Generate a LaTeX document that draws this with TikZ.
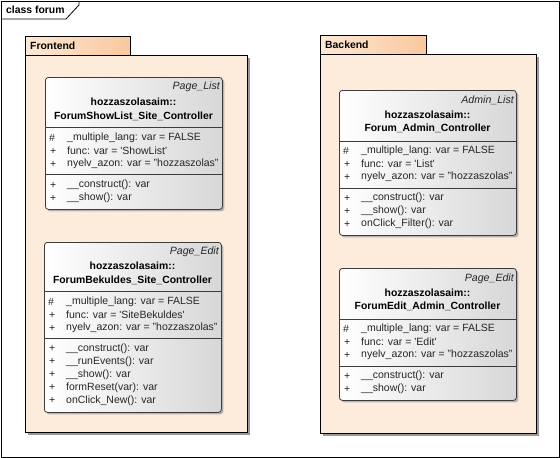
\documentclass[tikz,border=0pt]{standalone}
\usepackage{fontspec}
\setmainfont{Liberation Sans}
\usetikzlibrary{shadows}
\definecolor{pkgbody}{RGB}{253,235,219}
\definecolor{pkgtabL}{RGB}{253,232,212}
\definecolor{pkgtabR}{RGB}{249,200,158}
\definecolor{boxline}{RGB}{60,60,60}
\definecolor{boxgray}{RGB}{215,215,215}
\tikzset{
  frame/.style={draw=black, line width=0.8pt},
  pkgbodystyle/.style={draw=black, line width=0.8pt, fill=pkgbody, anchor=north west, inner sep=0pt,
     drop shadow={shadow xshift=2.5pt, shadow yshift=-2.5pt, fill=black!40, opacity=1}},
  pkgtabstyle/.style={draw=black, line width=0.8pt, left color=pkgtabL, right color=pkgtabR, anchor=north west, inner sep=0pt},
  classbox/.style={draw=boxline, line width=0.8pt, rounded corners=3pt, left color=white, right color=boxgray,
     anchor=north west, inner sep=0pt,
     drop shadow={shadow xshift=2pt, shadow yshift=-2pt, fill=black!35, opacity=0.8}},
  sep/.style={draw=boxline, line width=0.8pt},
  txt/.style={font=\fontsize{10.5}{12}\selectfont, inner sep=0pt, text=black!85},
  stereo/.style={txt, font=\fontsize{10.6}{12}\selectfont\itshape, anchor=east},
  cname/.style={txt, font=\fontsize{10.4}{12}\selectfont\bfseries, anchor=center, text=black},
  vis/.style={txt, anchor=west},
  member/.style={txt, anchor=west},
  pkglabel/.style={font=\fontsize{10.4}{12}\selectfont\bfseries, inner sep=0pt, anchor=west},
}
\begin{document}
\begin{tikzpicture}[x=1pt,y=-1pt]
\useasboundingbox (0,0) rectangle (560,458);
% outer frame
\draw[frame] (1,1) rectangle (559,457);
\draw[frame] (1,19) -- (66,19) -- (79,5) -- (79,1);
\node[pkglabel] (title) at (6,10) {class forum};

% Frontend package
\node[pkgbodystyle, minimum width=222pt, minimum height=377pt] (frontbody) at (25,55) {};
\node[pkgtabstyle, minimum width=105pt, minimum height=19pt] (fronttab) at (25,36) {};
\node[pkglabel] (frontlabel) at (30,45.5) {Frontend};

% Backend package
\node[pkgbodystyle, minimum width=216pt, minimum height=379pt] (backbody) at (320,54) {};
\node[pkgtabstyle, minimum width=106pt, minimum height=19pt] (backtab) at (320,35) {};
\node[pkglabel] (backlabel) at (325,44.5) {Backend};

% ---------- Class 1 ----------
\node[classbox, minimum width=177pt, minimum height=132pt] (c1) at (45,77) {};
\node[stereo] (c1s) at (220,87) {Page\_List};
\node[cname] (c1n1) at (133.5,102) {hozzaszolasaim::};
\node[cname] (c1n2) at (133.5,116) {ForumShowList\_Site\_Controller};
\draw[sep] (c1.west |- 0,127) -- (c1.east |- 0,127);
\node[vis] (c1v1) at (49,138) {\#};
\node[member] (c1a1) at (67,138) {\_multiple\_lang: var = FALSE};
\node[vis] (c1v2) at (50,151) {+};
\node[member] (c1a2) at (67,151) {func: var = \textquotesingle ShowList\textquotesingle};
\node[vis] (c1v3) at (50,164) {+};
\node[member] (c1a3) at (67,164) {nyelv\_azon: var = "hozzaszolas"};
\draw[sep] (c1.west |- 0,174) -- (c1.east |- 0,174);
\node[vis] (c1v4) at (50,185) {+};
\node[member] (c1m1) at (67,185) {\_\_construct(): var};
\node[vis] (c1v5) at (50,198) {+};
\node[member] (c1m2) at (67,198) {\_\_show(): var};

% ---------- Class 2 ----------
\node[classbox, minimum width=177pt, minimum height=170pt] (c2) at (44,242) {};
\node[stereo] (c2s) at (219,251.5) {Page\_Edit};
\node[cname] (c2n1) at (132.5,266) {hozzaszolasaim::};
\node[cname] (c2n2) at (132.5,280) {ForumBekuldes\_Site\_Controller};
\draw[sep] (c2.west |- 0,291) -- (c2.east |- 0,291);
\node[vis] (c2v1) at (48,302) {\#};
\node[member] (c2a1) at (66,302) {\_multiple\_lang: var = FALSE};
\node[vis] (c2v2) at (49,315) {+};
\node[member] (c2a2) at (66,315) {func: var = \textquotesingle SiteBekuldes\textquotesingle};
\node[vis] (c2v3) at (49,328) {+};
\node[member] (c2a3) at (66,328) {nyelv\_azon: var = "hozzaszolas"};
\draw[sep] (c2.west |- 0,338) -- (c2.east |- 0,338);
\node[vis] (c2v4) at (49,348.5) {+};
\node[member] (c2m1) at (66,348.5) {\_\_construct(): var};
\node[vis] (c2v5) at (49,361.5) {+};
\node[member] (c2m2) at (66,361.5) {\_\_runEvents(): var};
\node[vis] (c2v6) at (49,374.5) {+};
\node[member] (c2m3) at (66,374.5) {\_\_show(): var};
\node[vis] (c2v7) at (49,387.5) {+};
\node[member] (c2m4) at (66,387.5) {formReset(var): var};
\node[vis] (c2v8) at (49,400.5) {+};
\node[member] (c2m5) at (66,400.5) {onClick\_New(): var};

% ---------- Class 3 ----------
\node[classbox, minimum width=177pt, minimum height=145pt] (c3) at (339,90) {};
\node[stereo] (c3s) at (514,100.5) {Admin\_List};
\node[cname] (c3n1) at (427.5,115) {hozzaszolasaim::};
\node[cname] (c3n2) at (427.5,128.5) {Forum\_Admin\_Controller};
\draw[sep] (c3.west |- 0,141) -- (c3.east |- 0,141);
\node[vis] (c3v1) at (343,151) {\#};
\node[member] (c3a1) at (361,151) {\_multiple\_lang: var = FALSE};
\node[vis] (c3v2) at (344,164) {+};
\node[member] (c3a2) at (361,164) {func: var = \textquotesingle List\textquotesingle};
\node[vis] (c3v3) at (344,177) {+};
\node[member] (c3a3) at (361,177) {nyelv\_azon: var = "hozzaszolas"};
\draw[sep] (c3.west |- 0,188) -- (c3.east |- 0,188);
\node[vis] (c3v4) at (344,198) {+};
\node[member] (c3m1) at (361,198) {\_\_construct(): var};
\node[vis] (c3v5) at (344,211) {+};
\node[member] (c3m2) at (361,211) {\_\_show(): var};
\node[vis] (c3v6) at (344,224) {+};
\node[member] (c3m3) at (361,224) {onClick\_Filter(): var};

% ---------- Class 4 ----------
\node[classbox, minimum width=177pt, minimum height=132pt] (c4) at (339,268) {};
\node[stereo] (c4s) at (514,278.5) {Page\_Edit};
\node[cname] (c4n1) at (427.5,293) {hozzaszolasaim::};
\node[cname] (c4n2) at (427.5,306.5) {ForumEdit\_Admin\_Controller};
\draw[sep] (c4.west |- 0,319) -- (c4.east |- 0,319);
\node[vis] (c4v1) at (343,329) {\#};
\node[member] (c4a1) at (361,329) {\_multiple\_lang: var = FALSE};
\node[vis] (c4v2) at (344,342) {+};
\node[member] (c4a2) at (361,342) {func: var = \textquotesingle Edit\textquotesingle};
\node[vis] (c4v3) at (344,355) {+};
\node[member] (c4a3) at (361,355) {nyelv\_azon: var = "hozzaszolas"};
\draw[sep] (c4.west |- 0,366) -- (c4.east |- 0,366);
\node[vis] (c4v4) at (344,376) {+};
\node[member] (c4m1) at (361,376) {\_\_construct(): var};
\node[vis] (c4v5) at (344,389) {+};
\node[member] (c4m2) at (361,389) {\_\_show(): var};
\end{tikzpicture}
\end{document}
